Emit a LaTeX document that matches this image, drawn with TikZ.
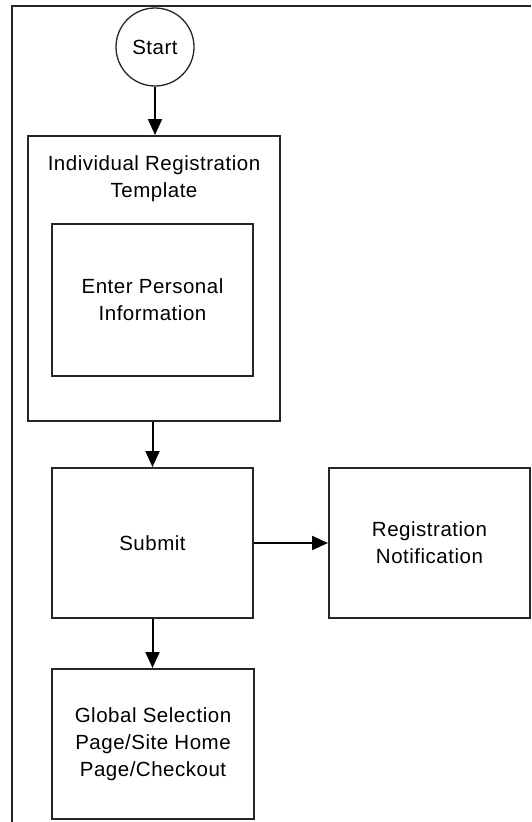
\documentclass[tikz,border=0pt]{standalone}
\usepackage{fontspec}
\setmainfont{Liberation Sans}[LetterSpace=2.5]
\usetikzlibrary{arrows.meta}
\begin{document}
\begin{tikzpicture}[x=1pt,y=-1pt,
  line width=2pt,
  every node/.style={font=\fontsize{20.5pt}{27pt}\selectfont, text=black, align=center},
  box/.style={draw=black!85, rectangle, inner sep=0pt},
  startnode/.style={draw=black!85, circle, line width=1.3pt, minimum size=78pt, inner sep=0pt},
  flow/.style={draw=black, -{Triangle[length=16pt,width=14pt]}}
]
\useasboundingbox (0,0) rectangle (531,822);

% page frame: top and left edges only
\draw[black!85] (531,5.5) -- (12,5.5) -- (12,822);

% start
\node[startnode] (start) at (155,47) {Start};

% template group with its inner step
\node[box, minimum width=252pt, minimum height=285pt] (tmpl) at (154,278.5) {};
\node (tmpllabel) at (154,178.5) {Individual Registration\\Template};
\node[box, minimum width=201pt, minimum height=152pt] (enter) at (152.5,300) {Enter Personal\\Information};

% later steps
\node[box, minimum width=201pt, minimum height=150pt] (submit) at (152.5,543) {Submit};
\node[box, minimum width=201pt, minimum height=150pt] (notify) at (429.5,543) {Registration\\Notification};
\node[box, minimum width=202pt, minimum height=150pt] (global) at (153,744) {Global Selection\\Page/Site Home\\Page/Checkout};

% connectors
\draw[flow] (start.south) -- (start.south |- tmpl.north);
\draw[flow] (tmpl.south -| submit.north) -- (submit.north);
\draw[flow] (submit.east) -- (notify.west);
\draw[flow] (submit.south) -- (submit.south |- global.north);
\end{tikzpicture}
\end{document}
